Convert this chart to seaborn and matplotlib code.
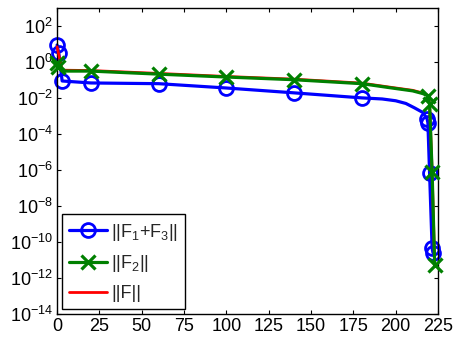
import numpy as np
import pandas as pd
import matplotlib
matplotlib.use("Agg")
import matplotlib.pyplot as plt
import seaborn as sns
from matplotlib.ticker import LogFormatterSciNotation, FixedLocator, NullLocator

# ---- data (iteration, log10 of norm) ----
blue_x = [0, 1, 3, 20, 60, 100, 140, 180, 192, 200, 206, 211, 216, 218.5, 219, 220, 221.5, 222]
blue_log = [0.95, 0.5, -1.05, -1.16, -1.2, -1.44, -1.71, -1.99, -2.05, -2.15, -2.3, -2.54, -2.8,
            -3.15, -3.37, -6.19, -10.35, -10.6]
blue_marks = [0, 1, 2, 3, 4, 5, 6, 7, 13, 14, 15, 16, 17]

green_x = [0, 0.5, 3, 20, 60, 100, 140, 180, 197, 210, 216, 219, 220, 221.5, 223]
green_log = [-0.05, -0.25, -0.5, -0.5, -0.67, -0.83, -0.98, -1.2, -1.43, -1.6, -1.75,
             -1.88, -2.32, -6.13, -11.27]
green_marks = [0, 1, 3, 4, 5, 6, 7, 11, 12, 13, 14]

red_x = [0, 3, 20, 60, 100, 140, 180, 197, 210, 216, 219, 220, 221.5, 223]
red_log = [0.85, -0.45, -0.47, -0.63, -0.8, -0.95, -1.17, -1.4, -1.57, -1.72, -1.85,
           -2.3, -6.1, -11.2]

labels = ["||F$_1$+F$_3$||", "||F$_2$||", "||F||"]
xticks = [0, 25, 50, 75, 100, 125, 150, 175, 200, 225]
yticks_exp = [-14, -12, -10, -8, -6, -4, -2, 0, 2]

sns.set_style("ticks")
plt.rcParams["font.family"] = ["Liberation Sans", "DejaVu Sans"]
plt.rcParams["mathtext.default"] = "regular"
plt.rcParams["xtick.direction"] = "in"
plt.rcParams["ytick.direction"] = "in"

fig = plt.figure(figsize=(4.53, 3.39), dpi=100)
ax = fig.add_axes([0.126, 0.074, 0.841, 0.902])

blue_df = pd.DataFrame({"x": blue_x, "y": np.power(10.0, blue_log)})
green_df = pd.DataFrame({"x": green_x, "y": np.power(10.0, green_log)})
red_df = pd.DataFrame({"x": red_x, "y": np.power(10.0, red_log)})

sns.lineplot(data=blue_df, x="x", y="y", ax=ax, color=(0, 0, 1), lw=2.3, sort=False,
             estimator=None, marker="o", markevery=blue_marks, ms=10, mfc="none",
             mec=(0, 0, 1), mew=2.0, zorder=2, label=labels[0], clip_on=False)
sns.lineplot(data=red_df, x="x", y="y", ax=ax, color=(1, 0, 0), lw=2.0, sort=False,
             estimator=None, zorder=3, label=labels[2], clip_on=False)
sns.lineplot(data=green_df, x="x", y="y", ax=ax, color=(0, 0.5, 0), lw=2.3, sort=False,
             estimator=None, marker="x", markevery=green_marks, ms=10,
             mec=(0, 0.5, 0), mew=2.3, zorder=4, label=labels[1], clip_on=False)

ax.set_yscale("log")
ax.set_xlim(0, 225)
ax.set_ylim(1e-14, 1e3)
ax.xaxis.set_major_locator(FixedLocator(xticks))
ax.yaxis.set_major_locator(FixedLocator([10.0 ** e for e in yticks_exp]))
ax.yaxis.set_major_formatter(LogFormatterSciNotation())
ax.yaxis.set_minor_locator(NullLocator())
ax.set_xlabel("")
ax.set_ylabel("")
ax.tick_params(which="both", top=True, right=True, length=3, width=0.8,
               labelsize=13, colors="black", pad=3)
for s in ax.spines.values():
    s.set_linewidth(1.0)
    s.set_color("black")

h, l = ax.get_legend_handles_labels()
order = [l.index(labels[0]), l.index(labels[1]), l.index(labels[2])]
leg = ax.legend([h[i] for i in order], [l[i] for i in order], loc="lower left",
                fontsize=13, frameon=True, fancybox=False, edgecolor="black",
                framealpha=1, borderaxespad=0.25, handlelength=2.1,
                labelspacing=0.6, handletextpad=0.25, borderpad=0.4)
leg.get_frame().set_linewidth(1.0)
leg.set_zorder(10)

fig.savefig("out.png", dpi=100)
